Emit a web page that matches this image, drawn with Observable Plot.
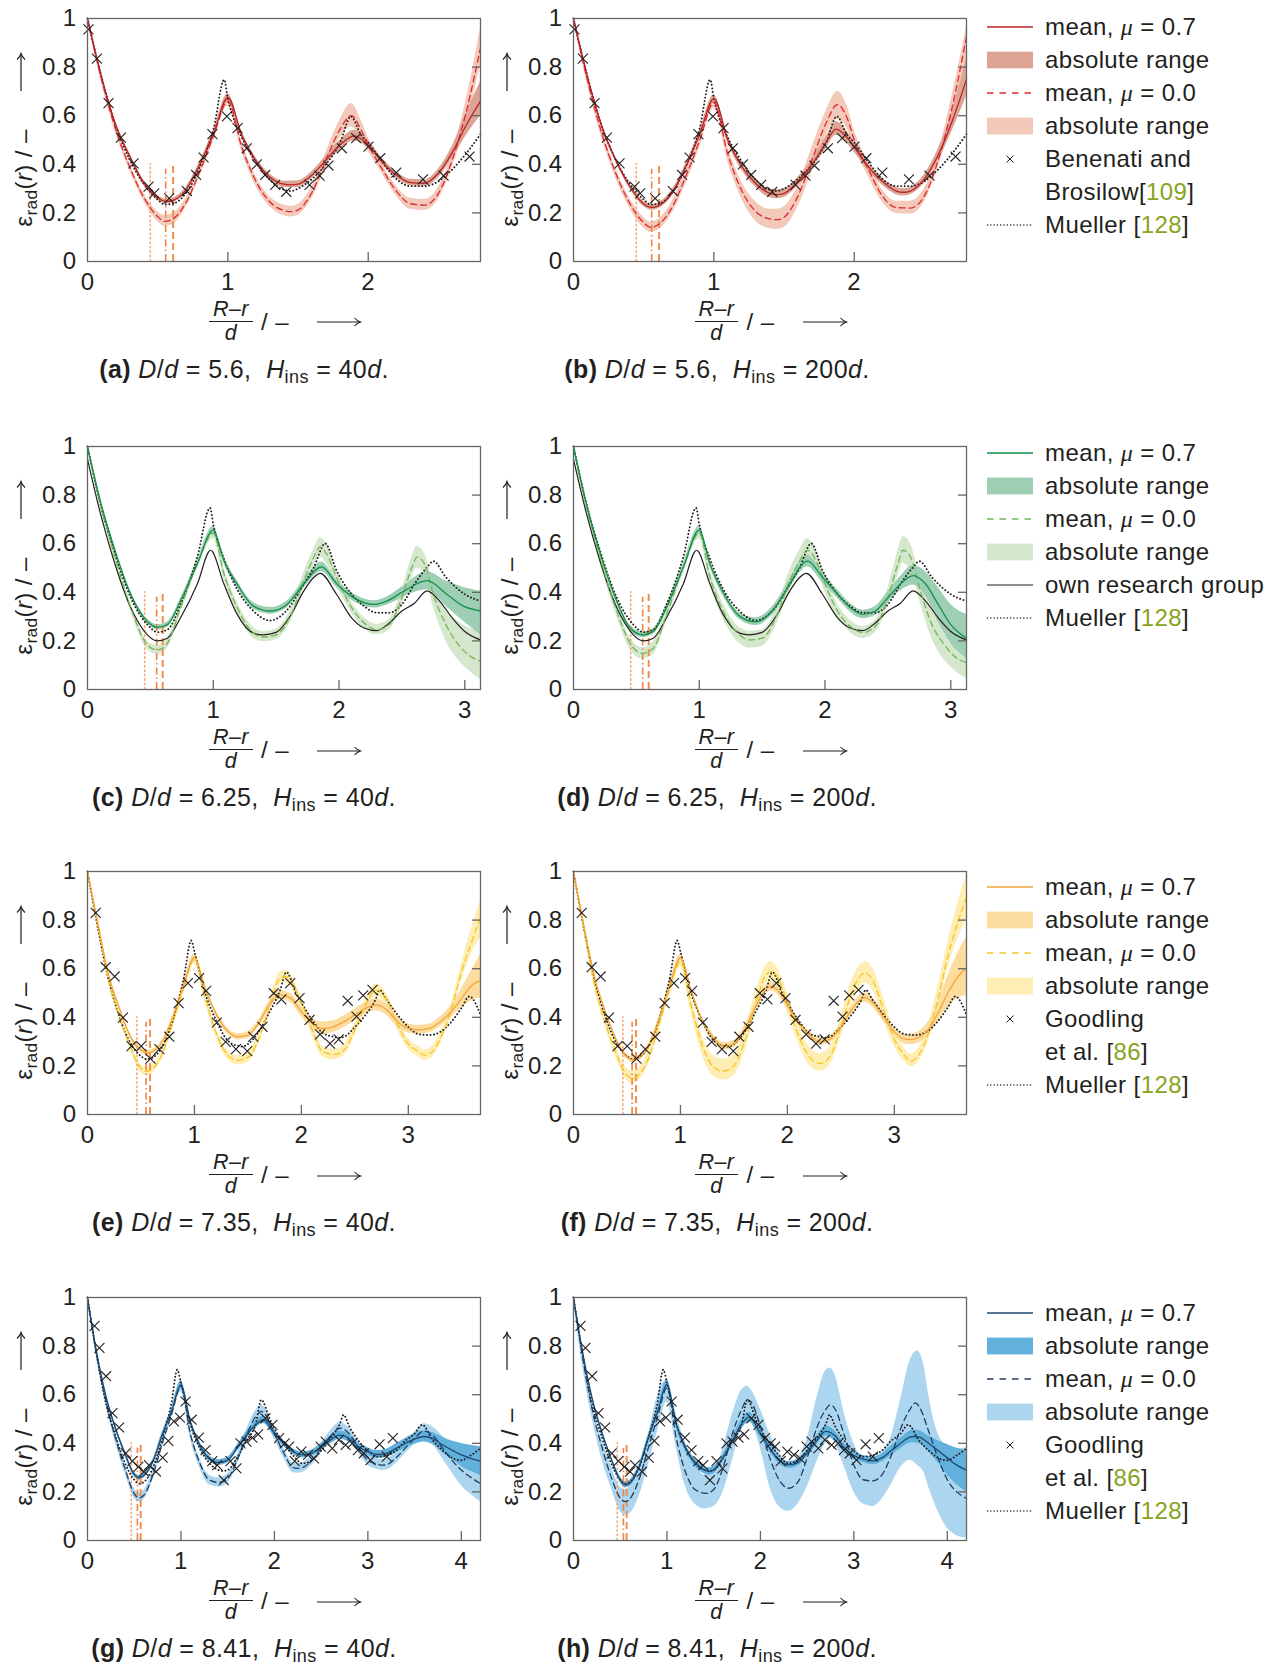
<!DOCTYPE html>
<html><head><meta charset="utf-8">
<script src="https://cdn.jsdelivr.net/npm/d3@7"></script>
<script src="https://cdn.jsdelivr.net/npm/@observablehq/plot@0.6"></script>
<style>
body{margin:0;background:#fff;}
#fig{position:relative;width:1281px;height:1666px;overflow:hidden;font-family:'Liberation Sans',Arial,Helvetica,sans-serif;color:#231f20;font-size:24px;letter-spacing:0.4px;}
.abs{position:absolute;white-space:nowrap;line-height:1;}
.ylab{transform:translate(-50%,-50%) rotate(-90deg);}
.vc{transform:translateY(-50%);}
.hc{transform:translate(-50%,-50%);}
.cap{font-size:25px;}
sub{font-size:0.72em;vertical-align:-0.3em;line-height:0;}
.cite{color:#86a41c;}
.mu{font-family:'Liberation Serif',serif;font-style:italic;}
.frac{font-size:21.5px;text-align:center;line-height:20px;}
.num{border-bottom:1.3px solid #231f20;padding:0 4px 2px 4px;}
.den{padding-top:1px;}
svg.leg{position:absolute;overflow:visible;}
</style>
</head><body><div id="fig"></div>
<script>
// ---------- D/d = 5.6 (a, b) ----------
const a_m7=[[0,1],[0.1,0.76],[0.2,0.565],[0.3,0.435],[0.4,0.325],[0.5,0.262],[0.56,0.247],[0.6,0.25],[0.7,0.294],[0.8,0.40],[0.9,0.53],[1.0,0.675],[1.1,0.52],[1.2,0.414],[1.3,0.347],[1.4,0.318],[1.45,0.315],[1.5,0.318],[1.6,0.356],[1.7,0.418],[1.8,0.48],[1.9,0.517],[2.0,0.48],[2.1,0.41],[2.2,0.356],[2.3,0.325],[2.4,0.322],[2.5,0.363],[2.6,0.45],[2.7,0.563],[2.8,0.66]];
const a_b7=[[0,0.99,1],[0.1,0.75,0.77],[0.2,0.555,0.575],[0.3,0.425,0.445],[0.4,0.315,0.335],[0.5,0.252,0.272],[0.56,0.237,0.257],[0.6,0.24,0.26],[0.7,0.284,0.304],[0.8,0.39,0.41],[0.9,0.515,0.545],[1.0,0.655,0.69],[1.1,0.505,0.535],[1.2,0.4,0.428],[1.3,0.335,0.36],[1.4,0.305,0.33],[1.5,0.305,0.332],[1.6,0.342,0.37],[1.7,0.4,0.435],[1.8,0.46,0.5],[1.9,0.497,0.54],[2.0,0.465,0.497],[2.1,0.397,0.425],[2.2,0.343,0.37],[2.3,0.312,0.338],[2.4,0.308,0.336],[2.5,0.345,0.38],[2.6,0.425,0.475],[2.7,0.52,0.615],[2.8,0.6,0.74]];
const a_m0=[[0,1],[0.1,0.75],[0.2,0.545],[0.3,0.39],[0.4,0.265],[0.5,0.185],[0.55,0.165],[0.6,0.172],[0.7,0.24],[0.8,0.37],[0.9,0.52],[1.0,0.66],[1.1,0.47],[1.2,0.33],[1.3,0.245],[1.4,0.21],[1.45,0.205],[1.5,0.212],[1.6,0.285],[1.7,0.42],[1.8,0.545],[1.88,0.6],[1.95,0.54],[2.0,0.48],[2.1,0.38],[2.2,0.29],[2.3,0.238],[2.4,0.232],[2.5,0.28],[2.6,0.42],[2.7,0.62],[2.8,0.88]];
const a_b0=[[0,0.99,1],[0.1,0.735,0.765],[0.2,0.53,0.56],[0.3,0.375,0.405],[0.4,0.25,0.28],[0.5,0.165,0.205],[0.55,0.145,0.19],[0.6,0.15,0.195],[0.7,0.22,0.26],[0.8,0.35,0.39],[0.9,0.5,0.54],[1.0,0.64,0.68],[1.1,0.45,0.49],[1.2,0.31,0.35],[1.3,0.225,0.265],[1.4,0.188,0.232],[1.45,0.183,0.227],[1.5,0.19,0.235],[1.6,0.26,0.31],[1.7,0.39,0.45],[1.8,0.51,0.585],[1.88,0.555,0.65],[1.95,0.5,0.58],[2.0,0.455,0.51],[2.1,0.36,0.4],[2.2,0.27,0.31],[2.3,0.215,0.26],[2.4,0.21,0.255],[2.5,0.255,0.305],[2.6,0.39,0.45],[2.7,0.57,0.67],[2.8,0.81,0.96]];
const b_m7=[[0,1],[0.1,0.76],[0.2,0.56],[0.3,0.42],[0.4,0.31],[0.5,0.237],[0.56,0.223],[0.6,0.228],[0.7,0.28],[0.8,0.39],[0.9,0.525],[1.0,0.67],[1.1,0.5],[1.2,0.39],[1.3,0.32],[1.4,0.28],[1.45,0.275],[1.5,0.28],[1.6,0.33],[1.7,0.40],[1.8,0.49],[1.87,0.545],[1.95,0.51],[2.0,0.47],[2.1,0.39],[2.2,0.33],[2.3,0.29],[2.35,0.285],[2.4,0.29],[2.5,0.34],[2.6,0.44],[2.7,0.58],[2.8,0.75]];
const b_b7=[[0,0.99,1],[0.1,0.75,0.77],[0.2,0.55,0.57],[0.3,0.41,0.43],[0.4,0.3,0.32],[0.5,0.226,0.248],[0.56,0.21,0.235],[0.6,0.216,0.24],[0.7,0.268,0.292],[0.8,0.378,0.402],[0.9,0.51,0.54],[1.0,0.65,0.685],[1.1,0.485,0.515],[1.2,0.375,0.405],[1.3,0.305,0.335],[1.4,0.262,0.298],[1.45,0.258,0.295],[1.5,0.263,0.298],[1.6,0.313,0.347],[1.7,0.38,0.42],[1.8,0.465,0.515],[1.87,0.52,0.575],[1.95,0.485,0.535],[2.0,0.45,0.49],[2.1,0.375,0.405],[2.2,0.315,0.345],[2.3,0.275,0.305],[2.35,0.27,0.3],[2.4,0.275,0.305],[2.5,0.322,0.358],[2.6,0.415,0.465],[2.7,0.54,0.62],[2.8,0.68,0.84]];
const b_m0=[[0,1],[0.1,0.745],[0.2,0.53],[0.3,0.365],[0.4,0.24],[0.5,0.16],[0.55,0.14],[0.6,0.15],[0.7,0.22],[0.8,0.35],[0.9,0.5],[1.0,0.655],[1.1,0.44],[1.2,0.29],[1.3,0.205],[1.4,0.175],[1.45,0.172],[1.5,0.182],[1.6,0.27],[1.7,0.42],[1.8,0.57],[1.88,0.645],[1.95,0.59],[2.0,0.5],[2.1,0.38],[2.2,0.27],[2.3,0.222],[2.4,0.22],[2.5,0.27],[2.6,0.42],[2.7,0.64],[2.8,0.925]];
const b_b0=[[0,0.99,1],[0.1,0.725,0.765],[0.2,0.51,0.55],[0.3,0.345,0.385],[0.4,0.22,0.26],[0.5,0.138,0.182],[0.55,0.12,0.162],[0.6,0.128,0.172],[0.7,0.195,0.245],[0.8,0.32,0.38],[0.9,0.47,0.53],[1.0,0.63,0.68],[1.1,0.41,0.47],[1.2,0.255,0.325],[1.3,0.165,0.245],[1.4,0.135,0.215],[1.45,0.132,0.215],[1.5,0.14,0.225],[1.6,0.225,0.315],[1.7,0.37,0.47],[1.8,0.52,0.62],[1.88,0.585,0.70],[1.95,0.545,0.64],[2.0,0.47,0.54],[2.1,0.35,0.41],[2.2,0.245,0.295],[2.3,0.198,0.248],[2.4,0.195,0.248],[2.5,0.245,0.3],[2.6,0.39,0.45],[2.7,0.59,0.69],[2.8,0.84,0.965]];
const mueller56=[[0,1],[0.1,0.76],[0.2,0.56],[0.3,0.42],[0.4,0.32],[0.5,0.255],[0.55,0.235],[0.6,0.237],[0.7,0.28],[0.8,0.39],[0.9,0.55],[0.974,0.748],[1.0,0.67],[1.05,0.575],[1.1,0.51],[1.2,0.41],[1.3,0.335],[1.4,0.295],[1.45,0.29],[1.5,0.3],[1.6,0.34],[1.7,0.4],[1.8,0.49],[1.876,0.597],[1.95,0.52],[2.0,0.49],[2.1,0.41],[2.2,0.34],[2.3,0.31],[2.4,0.31],[2.5,0.33],[2.6,0.38],[2.7,0.446],[2.8,0.524]];
const benenati=[[0.007,0.955],[0.067,0.835],[0.15,0.652],[0.238,0.51],[0.328,0.404],[0.435,0.308],[0.475,0.28],[0.582,0.26],[0.708,0.29],[0.774,0.356],[0.827,0.428],[0.89,0.524],[0.993,0.597],[1.069,0.549],[1.135,0.466],[1.207,0.40],[1.266,0.356],[1.337,0.315],[1.416,0.287],[1.582,0.315],[1.653,0.353],[1.717,0.395],[1.812,0.466],[1.914,0.508],[2.002,0.473],[2.086,0.425],[2.2,0.366],[2.39,0.338],[2.537,0.353],[2.722,0.432]];
const vl56=[0.447,0.557,0.61];

// ---------- D/d = 6.25 (c, d) ----------
const c_m7=[[0,1],[0.1,0.78],[0.21,0.587],[0.344,0.392],[0.476,0.28],[0.556,0.256],[0.635,0.267],[0.74,0.364],[0.873,0.517],[1.0,0.656],[1.085,0.531],[1.19,0.434],[1.32,0.343],[1.455,0.323],[1.587,0.35],[1.72,0.434],[1.86,0.505],[1.984,0.434],[2.116,0.378],[2.275,0.35],[2.38,0.364],[2.51,0.403],[2.7,0.448],[2.857,0.392],[2.99,0.343],[3.125,0.323]];
const c_b7=[[0,0.99,1],[0.1,0.77,0.79],[0.21,0.577,0.597],[0.344,0.382,0.402],[0.476,0.27,0.29],[0.556,0.245,0.267],[0.635,0.256,0.278],[0.74,0.353,0.375],[0.873,0.505,0.53],[1.0,0.64,0.672],[1.085,0.518,0.545],[1.19,0.42,0.448],[1.32,0.33,0.357],[1.455,0.31,0.337],[1.587,0.336,0.364],[1.72,0.418,0.45],[1.86,0.485,0.525],[1.984,0.418,0.45],[2.116,0.362,0.394],[2.275,0.335,0.365],[2.38,0.347,0.381],[2.51,0.38,0.425],[2.7,0.41,0.485],[2.857,0.34,0.445],[2.99,0.28,0.42],[3.125,0.225,0.405]];
const c_m0=[[0,1],[0.1,0.77],[0.21,0.56],[0.344,0.337],[0.476,0.184],[0.556,0.163],[0.635,0.19],[0.74,0.337],[0.873,0.517],[1.0,0.643],[1.085,0.476],[1.19,0.337],[1.32,0.232],[1.4,0.216],[1.5,0.225],[1.62,0.309],[1.72,0.448],[1.8,0.545],[1.85,0.587],[1.9,0.559],[1.98,0.462],[2.1,0.337],[2.2,0.274],[2.3,0.246],[2.4,0.267],[2.5,0.378],[2.58,0.503],[2.62,0.545],[2.68,0.517],[2.75,0.392],[2.85,0.267],[2.95,0.184],[3.05,0.135],[3.125,0.117]];
const c_b0=[[0,0.99,1],[0.1,0.755,0.785],[0.21,0.545,0.575],[0.344,0.32,0.355],[0.476,0.165,0.2],[0.556,0.145,0.182],[0.635,0.17,0.21],[0.74,0.315,0.36],[0.873,0.495,0.54],[1.0,0.62,0.665],[1.085,0.455,0.5],[1.19,0.315,0.36],[1.32,0.21,0.255],[1.4,0.196,0.238],[1.5,0.205,0.248],[1.62,0.285,0.335],[1.72,0.415,0.48],[1.8,0.51,0.58],[1.85,0.545,0.625],[1.9,0.52,0.6],[1.98,0.43,0.49],[2.1,0.315,0.36],[2.2,0.25,0.295],[2.3,0.225,0.268],[2.4,0.245,0.29],[2.5,0.345,0.41],[2.58,0.46,0.545],[2.62,0.5,0.59],[2.68,0.47,0.56],[2.75,0.34,0.44],[2.85,0.2,0.33],[2.95,0.12,0.28],[3.05,0.07,0.25],[3.125,0.04,0.24]];
const d_m7=[[0,1],[0.1,0.77],[0.21,0.566],[0.344,0.364],[0.45,0.253],[0.55,0.225],[0.635,0.239],[0.74,0.337],[0.873,0.503],[1.0,0.656],[1.085,0.517],[1.19,0.399],[1.32,0.302],[1.45,0.278],[1.58,0.323],[1.72,0.434],[1.8,0.503],[1.86,0.528],[1.98,0.462],[2.1,0.392],[2.2,0.337],[2.3,0.309],[2.4,0.323],[2.5,0.378],[2.6,0.434],[2.7,0.469],[2.8,0.434],[2.9,0.35],[3.0,0.267],[3.125,0.211]];
const d_b7=[[0,0.99,1],[0.1,0.76,0.78],[0.21,0.556,0.576],[0.344,0.354,0.374],[0.45,0.242,0.264],[0.55,0.213,0.237],[0.635,0.227,0.251],[0.74,0.325,0.349],[0.873,0.49,0.516],[1.0,0.64,0.672],[1.085,0.503,0.531],[1.19,0.385,0.413],[1.32,0.288,0.316],[1.45,0.263,0.295],[1.58,0.306,0.34],[1.72,0.415,0.453],[1.8,0.48,0.526],[1.86,0.505,0.552],[1.98,0.44,0.484],[2.1,0.375,0.41],[2.2,0.32,0.355],[2.3,0.292,0.327],[2.4,0.305,0.342],[2.5,0.355,0.402],[2.6,0.405,0.465],[2.7,0.43,0.51],[2.8,0.385,0.485],[2.9,0.28,0.42],[3.0,0.19,0.35],[3.125,0.128,0.309]];
const d_m0=[[0,1],[0.1,0.76],[0.21,0.545],[0.344,0.323],[0.45,0.19],[0.55,0.149],[0.635,0.17],[0.74,0.309],[0.873,0.503],[1.0,0.643],[1.085,0.462],[1.19,0.323],[1.32,0.225],[1.4,0.204],[1.5,0.211],[1.62,0.309],[1.72,0.448],[1.8,0.531],[1.86,0.573],[1.94,0.517],[2.0,0.434],[2.1,0.323],[2.2,0.26],[2.3,0.235],[2.4,0.26],[2.5,0.378],[2.58,0.517],[2.62,0.573],[2.68,0.545],[2.75,0.42],[2.85,0.267],[2.95,0.184],[3.05,0.128],[3.125,0.111]];
const d_b0=[[0,0.99,1],[0.1,0.74,0.78],[0.21,0.525,0.565],[0.344,0.3,0.345],[0.45,0.165,0.215],[0.55,0.125,0.172],[0.635,0.145,0.195],[0.74,0.28,0.335],[0.873,0.475,0.53],[1.0,0.62,0.665],[1.085,0.435,0.49],[1.19,0.29,0.355],[1.32,0.19,0.255],[1.4,0.17,0.24],[1.5,0.178,0.245],[1.62,0.275,0.345],[1.72,0.41,0.49],[1.8,0.495,0.575],[1.86,0.535,0.62],[1.94,0.48,0.56],[2.0,0.4,0.47],[2.1,0.295,0.35],[2.2,0.235,0.285],[2.3,0.21,0.26],[2.4,0.235,0.285],[2.5,0.345,0.415],[2.58,0.47,0.57],[2.62,0.52,0.63],[2.68,0.49,0.6],[2.75,0.37,0.47],[2.85,0.21,0.33],[2.95,0.12,0.26],[3.05,0.07,0.21],[3.125,0.045,0.2]];
const ownGroup=[[0,0.948],[0.1,0.73],[0.21,0.53],[0.344,0.337],[0.476,0.225],[0.556,0.2],[0.635,0.211],[0.74,0.295],[0.873,0.434],[0.979,0.573],[1.085,0.434],[1.19,0.309],[1.32,0.232],[1.4,0.225],[1.5,0.235],[1.62,0.309],[1.72,0.406],[1.8,0.462],[1.85,0.478],[1.98,0.392],[2.1,0.295],[2.2,0.253],[2.3,0.242],[2.4,0.274],[2.5,0.323],[2.6,0.355],[2.7,0.406],[2.8,0.364],[2.9,0.295],[3.0,0.239],[3.125,0.204]];
const mueller625=[[0,1],[0.1,0.77],[0.21,0.573],[0.344,0.378],[0.476,0.267],[0.556,0.236],[0.635,0.246],[0.74,0.35],[0.873,0.545],[0.975,0.747],[1.0,0.68],[1.085,0.538],[1.19,0.413],[1.32,0.323],[1.45,0.284],[1.58,0.323],[1.72,0.434],[1.8,0.503],[1.89,0.601],[1.98,0.49],[2.1,0.392],[2.2,0.343],[2.3,0.316],[2.4,0.316],[2.5,0.35],[2.6,0.434],[2.7,0.503],[2.75,0.528],[2.85,0.462],[3.0,0.392],[3.125,0.364]];
const vl625=[0.455,0.55,0.598];

// ---------- D/d = 7.35 (e, f) ----------
const e_m7=[[0,1],[0.1,0.78],[0.2,0.57],[0.3,0.435],[0.4,0.322],[0.5,0.265],[0.55,0.254],[0.6,0.258],[0.7,0.299],[0.8,0.403],[0.9,0.534],[1.0,0.647],[1.1,0.52],[1.2,0.417],[1.3,0.348],[1.4,0.32],[1.5,0.327],[1.6,0.375],[1.7,0.451],[1.8,0.492],[1.9,0.479],[2.0,0.423],[2.1,0.375],[2.2,0.354],[2.3,0.361],[2.4,0.382],[2.5,0.41],[2.6,0.437],[2.7,0.451],[2.8,0.43],[2.9,0.382],[3.0,0.354],[3.1,0.348],[3.2,0.354],[3.3,0.382],[3.4,0.423],[3.5,0.479],[3.6,0.534],[3.675,0.552]];
const e_b7=[[0,0.99,1],[0.1,0.77,0.79],[0.2,0.56,0.58],[0.3,0.425,0.445],[0.4,0.312,0.332],[0.5,0.255,0.275],[0.55,0.244,0.264],[0.6,0.248,0.268],[0.7,0.289,0.309],[0.8,0.392,0.414],[0.9,0.52,0.548],[1.0,0.632,0.662],[1.1,0.507,0.533],[1.2,0.405,0.429],[1.3,0.336,0.36],[1.4,0.307,0.333],[1.5,0.313,0.341],[1.6,0.36,0.39],[1.7,0.435,0.467],[1.8,0.475,0.51],[1.9,0.46,0.498],[2.0,0.403,0.443],[2.1,0.352,0.398],[2.2,0.33,0.38],[2.3,0.337,0.386],[2.4,0.358,0.406],[2.5,0.386,0.434],[2.6,0.413,0.461],[2.7,0.427,0.475],[2.8,0.407,0.453],[2.9,0.36,0.404],[3.0,0.335,0.373],[3.1,0.33,0.366],[3.2,0.336,0.372],[3.3,0.362,0.402],[3.4,0.398,0.448],[3.5,0.44,0.52],[3.6,0.47,0.6],[3.675,0.479,0.658]];
const e_m0=[[0,1],[0.1,0.77],[0.2,0.55],[0.3,0.405],[0.4,0.28],[0.5,0.189],[0.55,0.178],[0.6,0.185],[0.7,0.25],[0.8,0.38],[0.9,0.52],[1.0,0.64],[1.1,0.48],[1.2,0.34],[1.3,0.251],[1.4,0.223],[1.5,0.235],[1.6,0.31],[1.7,0.44],[1.8,0.561],[1.85,0.568],[1.9,0.55],[2.0,0.46],[2.1,0.35],[2.2,0.258],[2.3,0.247],[2.4,0.265],[2.5,0.35],[2.6,0.45],[2.7,0.513],[2.8,0.47],[2.9,0.37],[3.0,0.29],[3.1,0.258],[3.15,0.244],[3.2,0.25],[3.3,0.313],[3.4,0.43],[3.5,0.59],[3.6,0.72],[3.675,0.81]];
const e_b0=[[0,0.99,1],[0.1,0.755,0.785],[0.2,0.535,0.565],[0.3,0.39,0.42],[0.4,0.264,0.296],[0.5,0.172,0.206],[0.55,0.16,0.196],[0.6,0.167,0.203],[0.7,0.232,0.268],[0.8,0.36,0.4],[0.9,0.5,0.54],[1.0,0.62,0.66],[1.1,0.46,0.5],[1.2,0.32,0.36],[1.3,0.232,0.27],[1.4,0.204,0.242],[1.5,0.215,0.255],[1.6,0.288,0.332],[1.7,0.415,0.465],[1.8,0.535,0.587],[1.85,0.542,0.594],[1.9,0.524,0.576],[2.0,0.435,0.485],[2.1,0.327,0.373],[2.2,0.236,0.28],[2.3,0.225,0.269],[2.4,0.243,0.287],[2.5,0.326,0.374],[2.6,0.425,0.475],[2.7,0.487,0.539],[2.8,0.445,0.495],[2.9,0.347,0.393],[3.0,0.268,0.312],[3.1,0.236,0.28],[3.15,0.222,0.266],[3.2,0.228,0.272],[3.3,0.29,0.336],[3.4,0.405,0.455],[3.5,0.555,0.625],[3.6,0.67,0.78],[3.675,0.727,0.879]];
const f_m7=[[0,1],[0.1,0.77],[0.2,0.56],[0.3,0.42],[0.4,0.306],[0.5,0.237],[0.55,0.226],[0.6,0.23],[0.7,0.28],[0.8,0.39],[0.9,0.53],[1.0,0.644],[1.1,0.51],[1.2,0.39],[1.3,0.32],[1.4,0.281],[1.5,0.29],[1.6,0.35],[1.7,0.44],[1.8,0.515],[1.85,0.527],[1.9,0.515],[2.0,0.45],[2.1,0.38],[2.2,0.33],[2.3,0.299],[2.4,0.31],[2.5,0.36],[2.6,0.43],[2.7,0.478],[2.73,0.481],[2.8,0.46],[2.9,0.4],[3.0,0.34],[3.1,0.31],[3.15,0.308],[3.2,0.312],[3.3,0.34],[3.4,0.41],[3.5,0.5],[3.6,0.57],[3.675,0.603]];
const f_b7=[[0,0.99,1],[0.1,0.76,0.78],[0.2,0.55,0.57],[0.3,0.41,0.43],[0.4,0.295,0.317],[0.5,0.226,0.248],[0.55,0.214,0.238],[0.6,0.218,0.242],[0.7,0.268,0.292],[0.8,0.378,0.402],[0.9,0.515,0.545],[1.0,0.628,0.66],[1.1,0.496,0.524],[1.2,0.377,0.403],[1.3,0.306,0.334],[1.4,0.266,0.296],[1.5,0.275,0.305],[1.6,0.334,0.366],[1.7,0.423,0.457],[1.8,0.497,0.533],[1.85,0.508,0.546],[1.9,0.497,0.533],[2.0,0.433,0.467],[2.1,0.364,0.396],[2.2,0.315,0.345],[2.3,0.284,0.314],[2.4,0.295,0.325],[2.5,0.344,0.376],[2.6,0.412,0.448],[2.7,0.458,0.498],[2.73,0.461,0.501],[2.8,0.44,0.48],[2.9,0.382,0.418],[3.0,0.323,0.357],[3.1,0.29,0.33],[3.15,0.287,0.33],[3.2,0.29,0.335],[3.3,0.315,0.37],[3.4,0.375,0.45],[3.5,0.44,0.57],[3.6,0.48,0.67],[3.675,0.49,0.727]];
const f_m0=[[0,1],[0.1,0.76],[0.2,0.53],[0.3,0.375],[0.4,0.25],[0.5,0.162],[0.55,0.148],[0.6,0.158],[0.7,0.23],[0.8,0.37],[0.9,0.52],[1.0,0.63],[1.1,0.45],[1.2,0.29],[1.3,0.2],[1.4,0.178],[1.5,0.2],[1.6,0.3],[1.7,0.45],[1.8,0.575],[1.85,0.589],[1.9,0.57],[2.0,0.46],[2.1,0.33],[2.2,0.24],[2.3,0.21],[2.4,0.24],[2.5,0.36],[2.6,0.5],[2.7,0.578],[2.73,0.582],[2.8,0.55],[2.9,0.43],[3.0,0.31],[3.1,0.24],[3.15,0.219],[3.2,0.23],[3.3,0.31],[3.4,0.46],[3.5,0.65],[3.6,0.8],[3.675,0.892]];
const f_b0=[[0,0.99,1],[0.1,0.74,0.78],[0.2,0.51,0.55],[0.3,0.355,0.398],[0.4,0.228,0.275],[0.5,0.14,0.188],[0.55,0.127,0.178],[0.6,0.136,0.186],[0.7,0.205,0.26],[0.8,0.34,0.4],[0.9,0.49,0.55],[1.0,0.605,0.655],[1.1,0.415,0.485],[1.2,0.25,0.33],[1.3,0.16,0.245],[1.4,0.141,0.228],[1.5,0.16,0.245],[1.6,0.255,0.35],[1.7,0.41,0.5],[1.8,0.54,0.615],[1.85,0.55,0.63],[1.9,0.53,0.61],[2.0,0.42,0.5],[2.1,0.295,0.37],[2.2,0.205,0.28],[2.3,0.178,0.25],[2.4,0.205,0.28],[2.5,0.32,0.4],[2.6,0.455,0.55],[2.7,0.535,0.625],[2.73,0.54,0.63],[2.8,0.51,0.6],[2.9,0.39,0.48],[3.0,0.28,0.345],[3.1,0.215,0.27],[3.15,0.196,0.248],[3.2,0.205,0.258],[3.3,0.28,0.345],[3.4,0.42,0.51],[3.5,0.6,0.71],[3.6,0.73,0.88],[3.675,0.8,0.99]];
const mueller735=[[0,1],[0.1,0.76],[0.2,0.55],[0.3,0.4],[0.4,0.295],[0.5,0.24],[0.55,0.228],[0.6,0.232],[0.7,0.28],[0.8,0.39],[0.9,0.56],[0.97,0.716],[1.0,0.67],[1.1,0.5],[1.2,0.39],[1.3,0.31],[1.4,0.283],[1.45,0.28],[1.5,0.29],[1.6,0.34],[1.7,0.42],[1.8,0.51],[1.86,0.586],[1.95,0.5],[2.0,0.46],[2.1,0.39],[2.2,0.335],[2.3,0.32],[2.35,0.316],[2.4,0.32],[2.5,0.36],[2.6,0.41],[2.7,0.48],[2.73,0.513],[2.8,0.47],[2.9,0.41],[3.0,0.36],[3.1,0.33],[3.2,0.327],[3.3,0.34],[3.4,0.38],[3.5,0.44],[3.57,0.486],[3.675,0.41]];
const goodling735=[[0.077,0.83],[0.17,0.606],[0.254,0.568],[0.332,0.399],[0.412,0.281],[0.502,0.281],[0.589,0.23],[0.672,0.269],[0.765,0.32],[0.852,0.458],[0.939,0.541],[1.044,0.561],[1.109,0.509],[1.209,0.378],[1.292,0.299],[1.388,0.269],[1.494,0.261],[1.55,0.32],[1.636,0.361],[1.742,0.499],[1.813,0.474],[1.896,0.541],[1.983,0.479],[2.076,0.389],[2.175,0.33],[2.268,0.292],[2.349,0.309],[2.433,0.468],[2.516,0.403],[2.578,0.49],[2.665,0.513]];
const vl735=[0.462,0.548,0.585];

// ---------- D/d = 8.41 (g, h) ----------
const g_m7=[[0,1],[0.1,0.77],[0.2,0.59],[0.3,0.462],[0.4,0.359],[0.5,0.272],[0.55,0.258],[0.6,0.266],[0.7,0.324],[0.8,0.434],[0.9,0.531],[1.0,0.641],[1.1,0.49],[1.2,0.393],[1.3,0.338],[1.4,0.321],[1.5,0.331],[1.6,0.379],[1.7,0.434],[1.8,0.476],[1.88,0.497],[2.0,0.441],[2.1,0.4],[2.2,0.366],[2.3,0.352],[2.4,0.359],[2.5,0.386],[2.6,0.414],[2.7,0.434],[2.8,0.421],[2.9,0.386],[3.0,0.366],[3.1,0.354],[3.2,0.359],[3.3,0.379],[3.4,0.4],[3.5,0.418],[3.6,0.428],[3.7,0.418],[3.8,0.393],[3.9,0.372],[4.0,0.352],[4.1,0.338],[4.205,0.327]];
const g_b7=[[0,0.99,1],[0.1,0.76,0.78],[0.2,0.58,0.6],[0.3,0.452,0.472],[0.4,0.349,0.369],[0.5,0.262,0.282],[0.55,0.248,0.268],[0.6,0.256,0.276],[0.7,0.314,0.334],[0.8,0.422,0.446],[0.9,0.518,0.544],[1.0,0.625,0.657],[1.1,0.476,0.504],[1.2,0.38,0.406],[1.3,0.326,0.35],[1.4,0.309,0.333],[1.5,0.319,0.343],[1.6,0.366,0.392],[1.7,0.42,0.448],[1.8,0.461,0.491],[1.88,0.482,0.512],[2.0,0.427,0.455],[2.1,0.387,0.413],[2.2,0.354,0.378],[2.3,0.34,0.364],[2.4,0.346,0.372],[2.5,0.372,0.4],[2.6,0.398,0.43],[2.7,0.417,0.451],[2.8,0.404,0.438],[2.9,0.37,0.402],[3.0,0.35,0.382],[3.1,0.338,0.37],[3.2,0.342,0.376],[3.3,0.36,0.398],[3.4,0.38,0.42],[3.5,0.396,0.44],[3.6,0.405,0.451],[3.7,0.393,0.443],[3.8,0.362,0.424],[3.9,0.335,0.409],[4.0,0.305,0.399],[4.1,0.285,0.392],[4.205,0.269,0.386]];
const g_m0=[[0,1],[0.1,0.76],[0.2,0.57],[0.3,0.42],[0.4,0.297],[0.5,0.193],[0.55,0.175],[0.6,0.185],[0.7,0.27],[0.8,0.4],[0.9,0.52],[1.0,0.634],[1.1,0.44],[1.2,0.32],[1.3,0.25],[1.4,0.239],[1.5,0.255],[1.6,0.33],[1.7,0.43],[1.8,0.51],[1.86,0.531],[1.9,0.52],[2.0,0.44],[2.1,0.36],[2.2,0.3],[2.25,0.297],[2.3,0.3],[2.4,0.33],[2.5,0.38],[2.6,0.43],[2.7,0.462],[2.8,0.44],[2.9,0.38],[3.0,0.33],[3.1,0.315],[3.15,0.31],[3.2,0.312],[3.3,0.34],[3.4,0.38],[3.5,0.42],[3.6,0.451],[3.7,0.43],[3.8,0.38],[3.9,0.33],[4.0,0.29],[4.1,0.26],[4.205,0.234]];
const g_b0=[[0,0.99,1],[0.1,0.745,0.775],[0.2,0.553,0.587],[0.3,0.4,0.44],[0.4,0.278,0.316],[0.5,0.175,0.213],[0.55,0.158,0.195],[0.6,0.167,0.205],[0.7,0.25,0.29],[0.8,0.38,0.42],[0.9,0.5,0.545],[1.0,0.612,0.655],[1.1,0.42,0.462],[1.2,0.3,0.34],[1.3,0.23,0.27],[1.4,0.22,0.258],[1.5,0.235,0.275],[1.6,0.31,0.35],[1.7,0.405,0.455],[1.8,0.485,0.535],[1.86,0.505,0.558],[1.9,0.495,0.545],[2.0,0.418,0.462],[2.1,0.34,0.38],[2.2,0.28,0.32],[2.25,0.277,0.317],[2.3,0.28,0.32],[2.4,0.31,0.35],[2.5,0.36,0.4],[2.6,0.408,0.452],[2.7,0.438,0.486],[2.8,0.418,0.462],[2.9,0.36,0.4],[3.0,0.31,0.35],[3.1,0.293,0.337],[3.15,0.288,0.332],[3.2,0.29,0.334],[3.3,0.317,0.363],[3.4,0.357,0.403],[3.5,0.395,0.445],[3.6,0.42,0.48],[3.7,0.395,0.465],[3.8,0.335,0.43],[3.9,0.28,0.4],[4.0,0.225,0.385],[4.1,0.19,0.38],[4.205,0.159,0.38]];
const h_m7=[[0,1],[0.1,0.77],[0.2,0.585],[0.3,0.45],[0.4,0.34],[0.5,0.25],[0.55,0.229],[0.6,0.235],[0.7,0.3],[0.8,0.42],[0.9,0.53],[1.0,0.642],[1.1,0.48],[1.2,0.38],[1.3,0.32],[1.4,0.29],[1.45,0.284],[1.5,0.29],[1.6,0.34],[1.7,0.41],[1.8,0.48],[1.88,0.508],[2.0,0.44],[2.1,0.38],[2.2,0.33],[2.3,0.311],[2.4,0.32],[2.5,0.36],[2.6,0.41],[2.7,0.449],[2.8,0.43],[2.9,0.38],[3.0,0.35],[3.1,0.335],[3.2,0.328],[3.3,0.34],[3.4,0.37],[3.5,0.4],[3.6,0.425],[3.65,0.428],[3.7,0.425],[3.8,0.4],[3.9,0.37],[4.0,0.34],[4.1,0.31],[4.205,0.29]];
const h_b7=[[0,0.99,1],[0.1,0.76,0.78],[0.2,0.575,0.595],[0.3,0.44,0.46],[0.4,0.33,0.35],[0.5,0.238,0.262],[0.55,0.216,0.242],[0.6,0.222,0.248],[0.7,0.287,0.313],[0.8,0.405,0.435],[0.9,0.515,0.548],[1.0,0.625,0.66],[1.1,0.465,0.495],[1.2,0.365,0.395],[1.3,0.305,0.335],[1.4,0.275,0.305],[1.45,0.269,0.299],[1.5,0.275,0.305],[1.6,0.325,0.355],[1.7,0.393,0.427],[1.8,0.46,0.5],[1.88,0.488,0.528],[2.0,0.423,0.457],[2.1,0.365,0.395],[2.2,0.316,0.344],[2.3,0.297,0.325],[2.4,0.306,0.334],[2.5,0.345,0.375],[2.6,0.392,0.428],[2.7,0.43,0.47],[2.8,0.41,0.45],[2.9,0.362,0.398],[3.0,0.334,0.366],[3.1,0.32,0.35],[3.2,0.312,0.344],[3.3,0.323,0.357],[3.4,0.35,0.39],[3.5,0.378,0.422],[3.6,0.4,0.45],[3.65,0.402,0.454],[3.7,0.398,0.452],[3.8,0.365,0.43],[3.9,0.32,0.41],[4.0,0.27,0.395],[4.1,0.23,0.38],[4.205,0.2,0.37]];
const h_m0=[[0,1],[0.1,0.75],[0.2,0.54],[0.3,0.39],[0.4,0.265],[0.5,0.174],[0.55,0.16],[0.6,0.17],[0.7,0.25],[0.8,0.38],[0.9,0.51],[1.0,0.628],[1.1,0.42],[1.2,0.28],[1.3,0.21],[1.42,0.194],[1.5,0.21],[1.6,0.3],[1.7,0.44],[1.8,0.54],[1.86,0.58],[1.9,0.57],[2.0,0.47],[2.1,0.34],[2.2,0.25],[2.3,0.215],[2.4,0.24],[2.5,0.34],[2.6,0.46],[2.7,0.54],[2.75,0.559],[2.8,0.54],[2.9,0.43],[3.0,0.31],[3.1,0.25],[3.2,0.245],[3.3,0.27],[3.4,0.35],[3.5,0.46],[3.6,0.54],[3.66,0.566],[3.7,0.55],[3.8,0.45],[3.9,0.34],[4.0,0.25],[4.1,0.2],[4.205,0.174]];
const h_b0=[[0,0.99,1],[0.1,0.71,0.76],[0.2,0.5,0.56],[0.3,0.34,0.42],[0.4,0.22,0.31],[0.5,0.12,0.22],[0.55,0.105,0.21],[0.6,0.11,0.22],[0.7,0.18,0.3],[0.8,0.31,0.43],[0.9,0.45,0.6],[1.0,0.57,0.66],[1.1,0.38,0.52],[1.2,0.22,0.4],[1.3,0.15,0.32],[1.4,0.13,0.27],[1.5,0.14,0.28],[1.6,0.2,0.38],[1.7,0.33,0.52],[1.8,0.47,0.62],[1.86,0.5,0.635],[1.9,0.49,0.62],[2.0,0.38,0.54],[2.1,0.22,0.44],[2.2,0.14,0.36],[2.3,0.12,0.32],[2.4,0.15,0.34],[2.5,0.22,0.42],[2.6,0.32,0.58],[2.7,0.4,0.7],[2.75,0.42,0.71],[2.8,0.4,0.68],[2.9,0.3,0.52],[3.0,0.2,0.4],[3.1,0.15,0.34],[3.2,0.14,0.33],[3.3,0.17,0.36],[3.4,0.23,0.43],[3.5,0.3,0.58],[3.6,0.33,0.74],[3.68,0.31,0.78],[3.75,0.28,0.72],[3.8,0.22,0.6],[3.9,0.12,0.44],[4.0,0.05,0.39],[4.1,0.02,0.38],[4.205,0.01,0.38]];
const mueller841=[[0,1],[0.1,0.76],[0.2,0.56],[0.3,0.43],[0.4,0.32],[0.5,0.25],[0.55,0.234],[0.6,0.24],[0.7,0.3],[0.8,0.42],[0.9,0.57],[0.96,0.703],[1.0,0.65],[1.1,0.48],[1.2,0.38],[1.3,0.32],[1.4,0.29],[1.45,0.286],[1.5,0.29],[1.6,0.34],[1.7,0.41],[1.8,0.48],[1.86,0.579],[1.95,0.5],[2.0,0.46],[2.1,0.4],[2.2,0.35],[2.3,0.317],[2.4,0.33],[2.5,0.37],[2.6,0.42],[2.7,0.48],[2.74,0.517],[2.8,0.47],[2.9,0.41],[3.0,0.37],[3.1,0.345],[3.2,0.35],[3.3,0.37],[3.4,0.41],[3.5,0.44],[3.58,0.476],[3.7,0.41],[3.8,0.37],[3.9,0.34],[4.0,0.33],[4.1,0.35],[4.205,0.379]];
const goodling841=[[0.075,0.883],[0.128,0.793],[0.199,0.676],[0.267,0.524],[0.338,0.465],[0.409,0.359],[0.48,0.327],[0.544,0.303],[0.605,0.283],[0.658,0.31],[0.733,0.283],[0.804,0.341],[0.865,0.41],[0.925,0.49],[0.989,0.506],[1.05,0.572],[1.114,0.497],[1.192,0.423],[1.263,0.372],[1.335,0.327],[1.388,0.31],[1.459,0.248],[1.53,0.327],[1.594,0.297],[1.637,0.4],[1.701,0.407],[1.765,0.423],[1.826,0.437],[1.904,0.503],[1.979,0.476],[2.05,0.421],[2.11,0.4],[2.157,0.386],[2.217,0.327],[2.288,0.366],[2.359,0.352],[2.423,0.338],[2.495,0.386],[2.548,0.407],[2.619,0.379],[2.69,0.414],[2.762,0.393],[2.833,0.4],[2.893,0.372],[2.957,0.359],[3.028,0.331],[3.125,0.396],[3.203,0.345],[3.267,0.421]];
const vl841=[0.468,0.534,0.569];

const yTicks=[0,0.2,0.4,0.6,0.8,1];

// ---------- styles ----------
const RED={l7:"#b8232b",l0:"#e3262f",b7:"#dca593",b0:"#f3c9ba"};
const GREEN={l7:"#13914a",l0:"#74b656",b7:"#9ecfb4",b0:"#d5e7cc"};
const YELLOW={l7:"#f2a73a",l0:"#f6c51f",b7:"#fddca0",b0:"#feeeb4"};
const BLUE={l7:"#1b4a73",l0:"#1f3d60",b7:"#62b0dc",b0:"#acd6f0"};
const INK="#231f20", FRAME="#666666";
const FONT="'Liberation Sans', Arial, Helvetica, sans-serif";

const panels=[
 {id:"a",row:0,col:0,xmax:2.8,xt:[0,1,2],m7:a_m7,b7:a_b7,m0:a_m0,b0:a_b0,mu:mueller56,exp:benenati,own:null,vl:vl56,pal:RED,cap:"5.6",h:"40"},
 {id:"b",row:0,col:1,xmax:2.8,xt:[0,1,2],m7:b_m7,b7:b_b7,m0:b_m0,b0:b_b0,mu:mueller56,exp:benenati,own:null,vl:vl56,pal:RED,cap:"5.6",h:"200"},
 {id:"c",row:1,col:0,xmax:3.125,xt:[0,1,2,3],m7:c_m7,b7:c_b7,m0:c_m0,b0:c_b0,mu:mueller625,exp:null,own:ownGroup,vl:vl625,pal:GREEN,cap:"6.25",h:"40"},
 {id:"d",row:1,col:1,xmax:3.125,xt:[0,1,2,3],m7:d_m7,b7:d_b7,m0:d_m0,b0:d_b0,mu:mueller625,exp:null,own:ownGroup,vl:vl625,pal:GREEN,cap:"6.25",h:"200"},
 {id:"e",row:2,col:0,xmax:3.675,xt:[0,1,2,3],m7:e_m7,b7:e_b7,m0:e_m0,b0:e_b0,mu:mueller735,exp:goodling735,own:null,vl:vl735,pal:YELLOW,cap:"7.35",h:"40"},
 {id:"f",row:2,col:1,xmax:3.675,xt:[0,1,2,3],m7:f_m7,b7:f_b7,m0:f_m0,b0:f_b0,mu:mueller735,exp:goodling735,own:null,vl:vl735,pal:YELLOW,cap:"7.35",h:"200"},
 {id:"g",row:3,col:0,xmax:4.205,xt:[0,1,2,3,4],m7:g_m7,b7:g_b7,m0:g_m0,b0:g_b0,mu:mueller841,exp:goodling841,own:null,vl:vl841,pal:BLUE,cap:"8.41",h:"40"},
 {id:"h",row:3,col:1,xmax:4.205,xt:[0,1,2,3,4],m7:h_m7,b7:h_b7,m0:h_m0,b0:h_b0,mu:mueller841,exp:goodling841,own:null,vl:vl841,pal:BLUE,cap:"8.41",h:"200"}
];

const ROWTOP=[17.5,446,871,1297];
const COLLEFT=[87,572.5];
const CAPX=[244,717];
const W=463,H=295,ML=60,MR=10,MT=12,MB=40;

const fig=document.getElementById("fig");
const NS="http://www.w3.org/2000/svg";
function add(html,cls,left,top){const d=document.createElement("div");d.className="abs "+cls;d.style.left=left+"px";d.style.top=top+"px";d.innerHTML=html;fig.appendChild(d);return d;}
function arrow(left,top,vertical){
  const s=document.createElementNS(NS,"svg");
  s.style.position="absolute";s.style.overflow="visible";
  if(vertical){
    s.setAttribute("width","12");s.setAttribute("height","38");
    s.style.left=(left-6)+"px";s.style.top=top+"px";
    s.innerHTML=`<path d="M6,38V0.8" stroke="${INK}" stroke-width="1.2" fill="none"/><path d="M2,6.5Q5,3.8 6,0.5Q7,3.8 10,6.5" stroke="${INK}" stroke-width="1.1" fill="none"/>`;
  }else{
    s.setAttribute("width","44");s.setAttribute("height","12");
    s.style.left=left+"px";s.style.top=(top-6)+"px";
    s.innerHTML=`<path d="M0,6H43.2" stroke="${INK}" stroke-width="1.2" fill="none"/><path d="M37.5,2Q40.2,5 43.5,6Q40.2,7 37.5,10" stroke="${INK}" stroke-width="1.1" fill="none"/>`;
  }
  fig.appendChild(s);
}

const X=d=>d[0], Y=d=>d[1];
function makePanel(p){
  const c=p.pal;
  const marks=[
    Plot.areaY(p.b0,{x:X,y1:d=>d[1],y2:d=>d[2],fill:c.b0,curve:"monotone-x"}),
    Plot.areaY(p.b7,{x:X,y1:d=>d[1],y2:d=>d[2],fill:c.b7,curve:"monotone-x"}),
    Plot.ruleX([p.vl[0]],{x:d=>d,y1:0,y2:0.4,stroke:"#f5a877",strokeWidth:1.6,strokeDasharray:"1.4,3",strokeLinecap:"round"}),
    Plot.ruleX([p.vl[1]],{x:d=>d,y1:0,y2:0.38,stroke:"#ee8444",strokeWidth:1.6,strokeDasharray:"7,3,1.5,3"}),
    Plot.ruleX([p.vl[2]],{x:d=>d,y1:0,y2:0.4,stroke:"#f0904f",strokeWidth:2,strokeDasharray:"7,4"})
  ];
  if(p.own) marks.push(Plot.line(p.own,{x:X,y:Y,stroke:INK,strokeWidth:1.2,curve:"monotone-x"}));
  marks.push(Plot.line(p.mu,{x:X,y:Y,stroke:INK,strokeWidth:1.9,strokeDasharray:"0.1,3.4",strokeLinecap:"round",curve:"monotone-x"}));
  marks.push(Plot.line(p.m0,{x:X,y:Y,stroke:c.l0,strokeWidth:1.3,strokeDasharray:"6,4",curve:"monotone-x"}));
  marks.push(Plot.line(p.m7,{x:X,y:Y,stroke:c.l7,strokeWidth:1.3,curve:"monotone-x"}));
  if(p.exp) marks.push(Plot.dot(p.exp,{x:X,y:Y,symbol:"times",r:4.6,stroke:INK,strokeWidth:1.1,fill:"none"}));
  marks.push(Plot.frame({stroke:FRAME,strokeWidth:1.3}));
  marks.push(Plot.axisY({anchor:"right",ticks:[0.2,0.4,0.6,0.8],tickSize:9,dx:-9,tickFormat:()=>"",label:null,stroke:FRAME,strokeWidth:1.3}));
  marks.push(Plot.axisX({anchor:"bottom",ticks:p.xt.filter(v=>v>0),tickSize:9,dy:-9,tickFormat:()=>"",label:null,stroke:FRAME,strokeWidth:1.3}));
  marks.push(Plot.axisY({anchor:"left",ticks:yTicks,tickSize:0,tickPadding:11,tickFormat:d=>(d===0?"0":d===1?"1":d.toFixed(1)),label:null,fill:INK}));
  marks.push(Plot.axisX({anchor:"bottom",ticks:p.xt,tickSize:0,tickPadding:11,tickFormat:d=>String(d),label:null,fill:INK}));
  return Plot.plot({width:W,height:H,marginLeft:ML,marginRight:MR,marginTop:MT,marginBottom:MB,
    x:{domain:[0,p.xmax],axis:null},y:{domain:[0,1],axis:null},
    style:{background:"transparent",overflow:"visible",fontSize:"24px",fontFamily:FONT,color:INK},
    marks});
}

for(const p of panels){
  const top=ROWTOP[p.row], left=COLLEFT[p.col];
  const svg=makePanel(p);
  svg.style.position="absolute";
  svg.style.left=(left-ML)+"px";
  svg.style.top=(top-MT)+"px";
  fig.appendChild(svg);
  // y label: text + arrow
  add('ε<sub>rad</sub>(<i>r</i>) / –',"ylab",left-63,top+160);
  arrow(left-66,top+35,true);
  // x label
  add('<div class="num"><i>R</i>–<i>r</i></div><div class="den"><i>d</i></div>',"frac",left+122,top+281);
  add('/ –',"vc",left+174,top+304);
  arrow(left+230,top+304.5,false);
  // caption
  add('<b>('+p.id+')</b> <i>D</i>/<i>d</i> = '+p.cap+',&nbsp; <i>H</i><sub>ins</sub> = '+p.h+'<i>d</i>.',"hc cap",CAPX[p.col],top+351);
}

// ---------- legends ----------
const LEGTOP=[27,453,887,1313], LEGSTEP=33, SYMX=986, TXTX=1045;
const legends=[
 {pal:RED,items:[["m7","mean, <i class='mu'>μ</i> = 0.7"],["b7","absolute range"],["m0","mean, <i class='mu'>μ</i> = 0.0"],["b0","absolute range"],["x","Benenati and"],["","Brosilow[<span class='cite'>109</span>]"],["mu","Mueller [<span class='cite'>128</span>]"]]},
 {pal:GREEN,items:[["m7","mean, <i class='mu'>μ</i> = 0.7"],["b7","absolute range"],["m0","mean, <i class='mu'>μ</i> = 0.0"],["b0","absolute range"],["own","own research group"],["mu","Mueller [<span class='cite'>128</span>]"]]},
 {pal:YELLOW,items:[["m7","mean, <i class='mu'>μ</i> = 0.7"],["b7","absolute range"],["m0","mean, <i class='mu'>μ</i> = 0.0"],["b0","absolute range"],["x","Goodling"],["","et al. [<span class='cite'>86</span>]"],["mu","Mueller [<span class='cite'>128</span>]"]]},
 {pal:BLUE,items:[["m7","mean, <i class='mu'>μ</i> = 0.7"],["b7","absolute range"],["m0","mean, <i class='mu'>μ</i> = 0.0"],["b0","absolute range"],["x","Goodling"],["","et al. [<span class='cite'>86</span>]"],["mu","Mueller [<span class='cite'>128</span>]"]]}
];
function sym(kind,c,cy){
  const s=document.createElementNS(NS,"svg");
  s.setAttribute("class","leg");s.setAttribute("width","48");s.setAttribute("height","20");
  s.style.left=SYMX+"px";s.style.top=(cy-10)+"px";
  let inner="";
  if(kind==="m7") inner=`<line x1="1" x2="47" y1="10" y2="10" stroke="${c.l7}" stroke-width="1.3"/>`;
  if(kind==="m0") inner=`<line x1="1" x2="47" y1="10" y2="10" stroke="${c.l0}" stroke-width="1.3" stroke-dasharray="6.5,6"/>`;
  if(kind==="b7") inner=`<rect x="1" y="1.6" width="46" height="16.8" fill="${c.b7}"/>`;
  if(kind==="b0") inner=`<rect x="1" y="1.6" width="46" height="16.8" fill="${c.b0}"/>`;
  if(kind==="own") inner=`<line x1="1" x2="47" y1="10" y2="10" stroke="${INK}" stroke-width="1.2"/>`;
  if(kind==="mu") inner=`<line x1="1.5" x2="47" y1="10" y2="10" stroke="${INK}" stroke-width="1.4" stroke-dasharray="0.1,3.2" stroke-linecap="round"/>`;
  if(kind==="x") inner=`<path d="M20.5,6.5L27.5,13.5M27.5,6.5L20.5,13.5" stroke="${INK}" stroke-width="1"/>`;
  s.innerHTML=inner; fig.appendChild(s);
}
legends.forEach((L,r)=>{
  L.items.forEach((it,i)=>{
    const cy=LEGTOP[r]+i*LEGSTEP;
    if(it[0]) sym(it[0],L.pal,cy);
    add(it[1],"vc",TXTX,cy);
  });
});
</script>
</body></html>
